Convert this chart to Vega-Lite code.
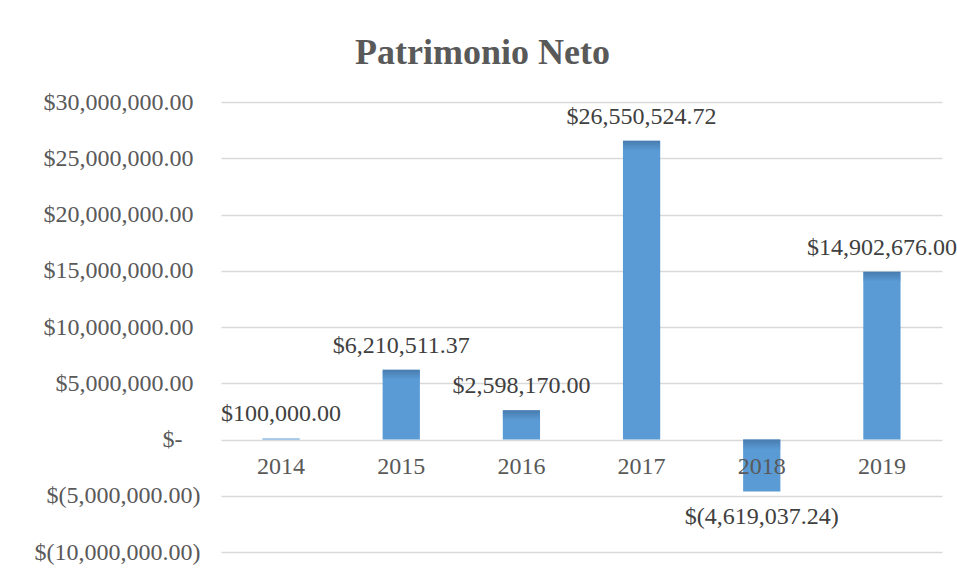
{
  "$schema": "https://vega.github.io/schema/vega-lite/v6.json",
  "width": 721,
  "height": 450,
  "autosize": {"type": "none"},
  "padding": {"left": 221, "top": 102, "right": 15, "bottom": 26},
  "background": "white",
  "config": {"view": {"stroke": null}},
  "title": {
    "text": "Patrimonio Neto",
    "font": "Liberation Serif",
    "fontSize": 36,
    "fontWeight": "bold",
    "color": "#595959",
    "anchor": "middle",
    "dx": -99,
    "offset": -10,
    "baseline": "alphabetic"
  },
  "data": {
    "values": [
      {"year": "2014", "value": 100000, "label": "$100,000.00"},
      {"year": "2015", "value": 6210511.37, "label": "$6,210,511.37"},
      {"year": "2016", "value": 2598170, "label": "$2,598,170.00"},
      {"year": "2017", "value": 26550524.72, "label": "$26,550,524.72"},
      {"year": "2018", "value": -4619037.24, "label": "$(4,619,037.24)"},
      {"year": "2019", "value": 14902676, "label": "$14,902,676.00"}
    ]
  },
  "encoding": {
    "x": {
      "field": "year",
      "type": "ordinal",
      "sort": null,
      "scale": {"paddingInner": 0.69, "paddingOuter": 0.345},
      "axis": {
        "title": null,
        "labelAngle": 0,
        "labelFont": "Liberation Serif",
        "labelFontSize": 24,
        "labelColor": "#595959",
        "domain": false,
        "ticks": false,
        "tickSize": 0,
        "grid": false,
        "offset": -112.5,
        "labelBaseline": "middle",
        "labelPadding": 26.5,
        "zindex": 2
      }
    },
    "y": {
      "field": "value",
      "type": "quantitative",
      "scale": {"domain": [-10000000, 30000000], "nice": false},
      "axis": {
        "title": null,
        "values": [-10000000, -5000000, 0, 5000000, 10000000, 15000000, 20000000, 25000000, 30000000],
        "labelExpr": "datum.value > 0 ? '$' + format(datum.value, ',.2f') : (datum.value < 0 ? '$(' + format(-datum.value, ',.2f') + ')' : '$-')",
        "labelFont": "Liberation Serif",
        "labelFontSize": 24,
        "labelColor": "#595959",
        "labelPadding": {
          "condition": [
            {"test": "datum.value < 0", "value": 21},
            {"test": "datum.value == 0", "value": 39}
          ],
          "value": 28
        },
        "domain": false,
        "ticks": false,
        "tickSize": 0,
        "grid": true,
        "gridColor": "#D9D9D9",
        "gridWidth": 1.5
      }
    }
  },
  "layer": [
    {"mark": {"type": "bar", "color": "#5B9BD5"}},
    {
      "transform": [{"filter": "datum.value > 1000000"}],
      "mark": {
        "type": "tick",
        "thickness": 10,
        "size": 37,
        "yOffset": 5,
        "color": {
          "gradient": "linear",
          "x1": 0, "y1": 0, "x2": 0, "y2": 1,
          "stops": [
            {"offset": 0, "color": "#3F6E9E"},
            {"offset": 1, "color": "#5B9BD5"}
          ]
        }
      }
    },
    {
      "transform": [{"filter": "datum.value < 0"}],
      "mark": {
        "type": "tick",
        "thickness": 10,
        "size": 37,
        "yOffset": 5,
        "color": {
          "gradient": "linear",
          "x1": 0, "y1": 0, "x2": 0, "y2": 1,
          "stops": [
            {"offset": 0, "color": "#3F6E9E"},
            {"offset": 1, "color": "#5B9BD5"}
          ]
        }
      },
      "encoding": {"y": {"datum": 0}}
    },
    {
      "transform": [{"filter": "datum.value >= 0"}],
      "mark": {
        "type": "text",
        "baseline": "alphabetic",
        "dy": -17,
        "font": "Liberation Serif",
        "fontSize": 24,
        "color": "#404040"
      },
      "encoding": {"text": {"field": "label"}}
    },
    {
      "transform": [{"filter": "datum.value < 0"}],
      "mark": {
        "type": "text",
        "baseline": "alphabetic",
        "dy": 32.5,
        "font": "Liberation Serif",
        "fontSize": 24,
        "color": "#404040"
      },
      "encoding": {"text": {"field": "label"}}
    }
  ]
}
